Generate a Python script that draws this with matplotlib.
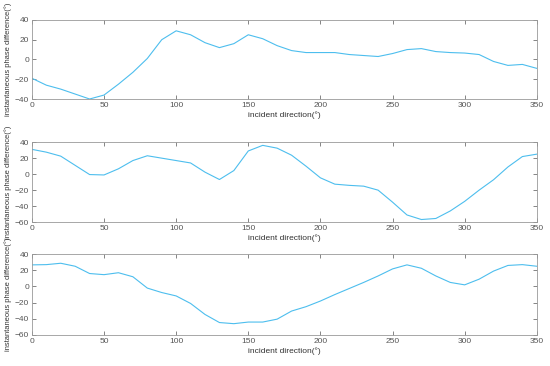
import numpy as np
import matplotlib.pyplot as plt

plt.rcParams['font.family'] = ['Liberation Sans', 'DejaVu Sans']

angles = np.arange(0, 360, 10)

phase_a = [-19, -26, -30, -35, -40, -36, -25, -13, 1, 20, 29, 25, 17, 12, 16, 25,
           21, 14, 9, 7, 7, 7, 5, 4, 3, 6, 10, 11, 8, 7, 6.5, 5, -2, -6, -5, -9]
phase_b = [31, 27.5, 22.5, 11, -0.5, -1, 6.7, 17, 23, 20, 17, 14, 2.5, -6.7, 4.5, 29,
           36, 32.5, 23.7, 10, -4.6, -12.5, -14, -15, -20, -35, -51, -56.7, -55.4, -46,
           -34, -20, -7, 9, 22, 25]
phase_c = [26.7, 27, 28.7, 25, 16, 14.6, 17, 12, -2, -7.5, -11.7, -21, -34.6, -44.6,
           -46, -44, -44, -40.4, -30.4, -25, -18, -10, -2.5, 5, 13, 21.7, 26.7, 22.5,
           13, 5, 2, 9, 19, 26, 27, 25]

series = [phase_a, phase_b, phase_c]
ylims = [(-40, 40), (-60, 40), (-60, 40)]
positions = [[0.058, 0.7295, 0.918, 0.216],
             [0.058, 0.393, 0.918, 0.2186],
             [0.058, 0.0847, 0.918, 0.221]]

fig = plt.figure(figsize=(5.5, 3.66), dpi=100)
for vals, yl, pos in zip(series, ylims, positions):
    ax = fig.add_axes(pos)
    ax.plot(angles, vals, color='#4DBEEE', lw=0.8)
    ax.set_xlim(0, 350)
    ax.set_ylim(*yl)
    ax.set_xticks(np.arange(0, 351, 50))
    ax.set_yticks(np.arange(yl[0], yl[1] + 1, 20))
    ax.tick_params(direction='in', top=True, right=True, length=3, width=0.5,
                   labelsize=6, colors='#555555', pad=2)
    for s in ax.spines.values():
        s.set_color('#999999')
        s.set_linewidth(0.6)
    ax.set_xlabel('incident direction(°)', fontsize=6, color='#333333', labelpad=2)
    ax.set_ylabel('instantaneous phase difference(°)', fontsize=5.4, color='#333333',
                  labelpad=2)

fig.savefig('out.png', dpi=100)
